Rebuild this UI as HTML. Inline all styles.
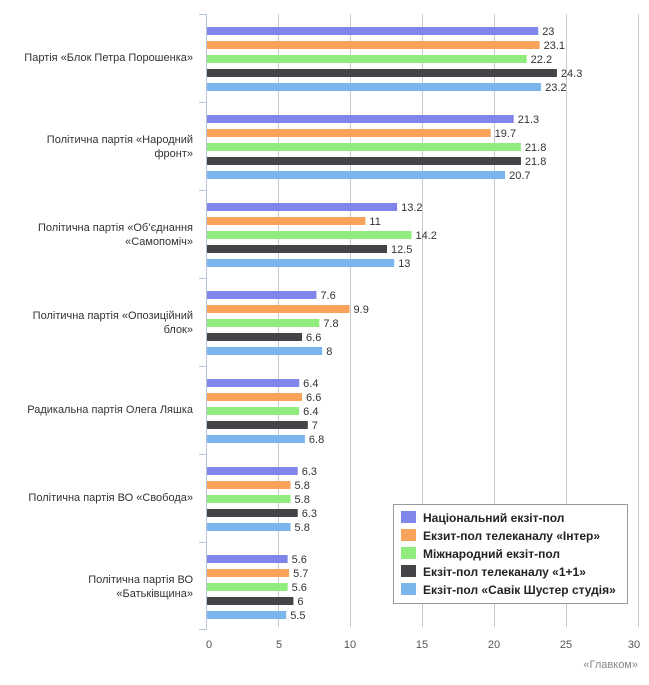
<!DOCTYPE html><html><head><meta charset="utf-8"><style>body{margin:0;background:#fff}</style></head><body>
<svg width="649" height="680" xmlns="http://www.w3.org/2000/svg" font-family="'Liberation Sans','DejaVu Sans',sans-serif">
<g stroke="#c8c8c8" stroke-width="1">
<line x1="278.5" y1="14" x2="278.5" y2="627"/><line x1="350.5" y1="14" x2="350.5" y2="627"/><line x1="422.5" y1="14" x2="422.5" y2="627"/><line x1="494.5" y1="14" x2="494.5" y2="627"/><line x1="566.5" y1="14" x2="566.5" y2="627"/><line x1="638.5" y1="14" x2="638.5" y2="627"/>
</g>
<g stroke="#b8c4d8" stroke-width="1">
<line x1="206.5" y1="14" x2="206.5" y2="630"/>
<line x1="199" y1="14.5" x2="206" y2="14.5"/><line x1="199" y1="102.5" x2="206" y2="102.5"/><line x1="199" y1="190.5" x2="206" y2="190.5"/><line x1="199" y1="278.5" x2="206" y2="278.5"/><line x1="199" y1="366.5" x2="206" y2="366.5"/><line x1="199" y1="454.5" x2="206" y2="454.5"/><line x1="199" y1="542.5" x2="206" y2="542.5"/><line x1="199" y1="629.5" x2="206" y2="629.5"/>
</g>
<g id="bars"></g>
<g font-size="11" fill="#333" text-anchor="end">
<text x="193" y="61">Партія «Блок Петра Порошенка»</text>
<text x="193" y="143">Політична партія «Народний</text><text x="193" y="157">фронт»</text>
<text x="193" y="231">Політична партія «Об’єднання</text><text x="193" y="245">«Самопоміч»</text>
<text x="193" y="319">Політична партія «Опозиційний</text><text x="193" y="333">блок»</text>
<text x="193" y="413">Радикальна партія Олега Ляшка</text>
<text x="193" y="501">Політична партія ВО «Свобода»</text>
<text x="193" y="583">Політична партія ВО</text><text x="193" y="597">«Батьківщина»</text>
</g>
<g font-size="11" fill="#555" text-anchor="middle">
<text x="209" y="648">0</text><text x="279" y="648">5</text><text x="350" y="648">10</text><text x="422" y="648">15</text><text x="494" y="648">20</text><text x="566" y="648">25</text><text x="634" y="648">30</text>
</g>
<text x="638" y="668" font-size="11" fill="#888" text-anchor="end">«Главком»</text>
<rect x="393.5" y="504.5" width="234" height="99" fill="#fff" stroke="#999"/>
<g font-size="12" font-weight="bold" fill="#222">
<rect x="401" y="511" width="15" height="12" fill="#8085e9"/><text x="423" y="522">Національний екзіт-пол</text>
<rect x="401" y="529" width="15" height="12" fill="#f7a35c"/><text x="423" y="540">Екзит-пол телеканалу «Інтер»</text>
<rect x="401" y="547" width="15" height="12" fill="#90ed7d"/><text x="423" y="558">Міжнародний екзіт-пол</text>
<rect x="401" y="565" width="15" height="12" fill="#434348"/><text x="423" y="576">Екзіт-пол телеканалу «1+1»</text>
<rect x="401" y="583" width="15" height="12" fill="#7cb5ec"/><text x="423" y="594">Екзіт-пол «Савік Шустер студія»</text>
</g>
</svg>
<script>
var d=[[23,23.1,22.2,24.3,23.2],[21.3,19.7,21.8,21.8,20.7],[13.2,11,14.2,12.5,13],[7.6,9.9,7.8,6.6,8],[6.4,6.6,6.4,7,6.8],[6.3,5.8,5.8,6.3,5.8],[5.6,5.7,5.6,6,5.5]];
var c=["#8085e9","#f7a35c","#90ed7d","#434348","#7cb5ec"],s="";
d.forEach(function(g,i){g.forEach(function(v,j){var y=27+88*i+14*j,w=v*14.4;
s+='<rect x="207" y="'+y+'" width="'+w+'" height="8" fill="'+c[j]+'"/><text x="'+(211+w)+'" y="'+(y+8)+'" font-size="11" fill="#333">'+v+'</text>';});});
document.getElementById('bars').innerHTML=s;
</script>
</body></html>
